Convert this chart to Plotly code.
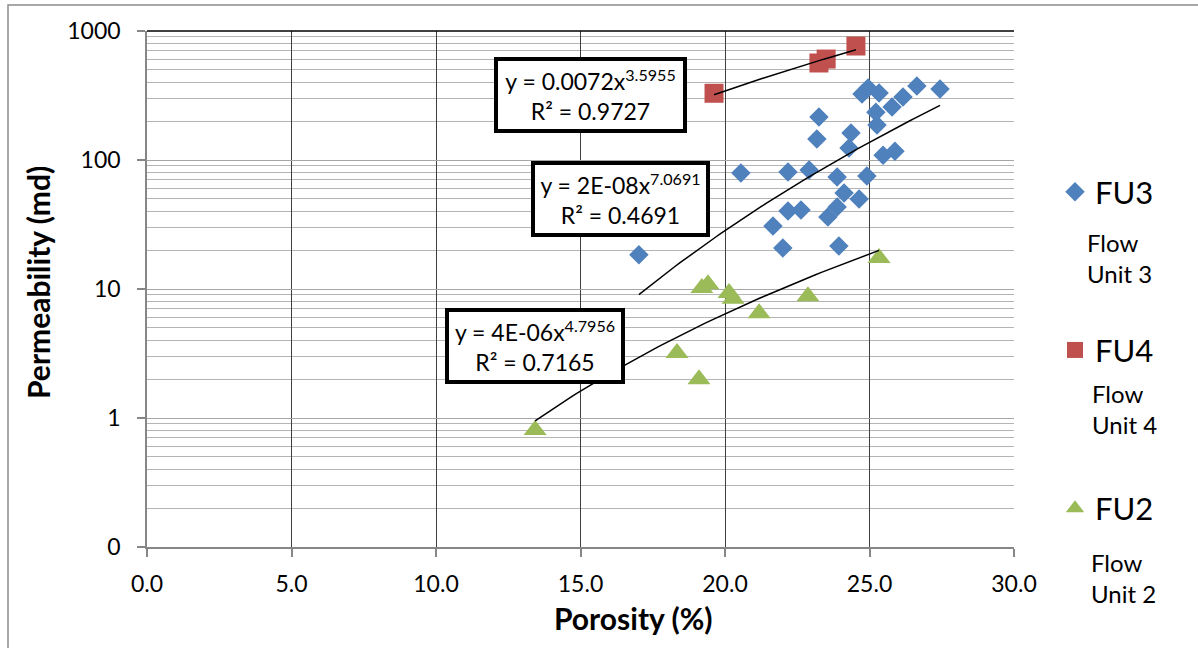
import numpy as np
import plotly.graph_objects as go

# ---------------- data ----------------
fu3_por = [17.02, 20.55, 21.66, 22.0, 22.18, 22.18, 22.63, 22.91, 23.18, 23.25,
           23.56, 23.88, 23.88, 23.94, 24.12, 24.29, 24.36, 24.64, 24.74, 24.91,
           24.95, 25.22, 25.26, 25.33, 25.47, 25.78, 25.88, 26.16, 26.64, 27.44]
fu3_perm = [18.4, 79.3, 30.8, 20.8, 80.7, 40.2, 41.0, 83.6, 145.5, 215,
            36.1, 43.2, 73.8, 21.5, 55.5, 123.9, 161.9, 49.9, 325, 75.2,
            362, 235, 187, 331, 109, 258, 117, 308, 375, 355]

fu4_por = [19.62, 23.25, 23.5, 24.53]
fu4_perm = [329, 565, 606, 765]

fu2_por = [13.43, 18.34, 19.1, 19.2, 19.41, 20.14, 20.28, 21.18, 22.87, 25.33]
fu2_perm = [0.807, 3.19, 2.0, 10.2, 10.9, 9.3, 8.4, 6.5, 8.8, 17.4]

# power trend parameters (y = a * x^b)
fu3_trend = [1.8e-8, 7.0691]
fu4_trend = [0.0072, 3.5955]
fu2_trend = [3.7e-6, 4.7956]

fu3_eq = ["y = 2E-08x<sup>7.0691</sup>", "R² = 0.4691"]
fu4_eq = ["y = 0.0072x<sup>3.5955</sup>", "R² = 0.9727"]
fu2_eq = ["y = 4E-06x<sup>4.7956</sup>", "R² = 0.7165"]

series_names = ["FU3", "FU4", "FU2"]
series_desc = ["Flow<br>Unit 3", "Flow<br>Unit 4", "Flow<br>Unit 2"]

x_ticks = [0, 5, 10, 15, 20, 25, 30]
x_ticktext = ["0.0", "5.0", "10.0", "15.0", "20.0", "25.0", "30.0"]
y_ticks = [0.1, 1, 10, 100, 1000]
y_ticktext = ["0", "1", "10", "100", "1000"]
y_minor = [m * 10.0 ** d for d in range(-1, 3) for m in range(2, 10)]

FONT = "Lato"
BLUE, RED, GREEN = "#4F81BD", "#C0504D", "#9BBB59"

fig = go.Figure()


def trend(xs, params):
    xx = np.linspace(min(xs), max(xs), 60)
    return xx, params[0] * xx ** params[1]


fig.add_trace(go.Scatter(x=fu3_por, y=fu3_perm, mode="markers", name=series_names[0],
                         legendgroup="a",
                         marker=dict(symbol="diamond", size=15, color=BLUE)))
fig.add_trace(go.Scatter(x=fu4_por, y=fu4_perm, mode="markers", name=series_names[1],
                         legendgroup="b",
                         marker=dict(symbol="square", size=19, color=RED)))
fig.add_trace(go.Scatter(x=fu2_por, y=fu2_perm, mode="markers", name=series_names[2],
                         legendgroup="c",
                         marker=dict(symbol="triangle-up", size=20, color=GREEN)))

for xs, p in [(fu3_por, fu3_trend), (fu4_por, fu4_trend), (fu2_por, fu2_trend)]:
    tx, ty = trend(xs, p)
    fig.add_trace(go.Scatter(x=tx, y=ty, mode="lines", showlegend=False,
                             line=dict(color="black", width=1.5), hoverinfo="skip"))

# ---------------- layout ----------------
L, R, T, B = 147, 1198 - 1014, 31, 648 - 547
W, H = 1198, 648
pw, ph = W - L - R, H - T - B


def px2paper(px, py):
    return (px - L) / pw, (H - B - py) / ph


annotations = []
# equation boxes
for eq, (cx, cy), (bw, bh) in [(fu4_eq, (590, 95), (185, 68)),
                               (fu3_eq, (620, 199), (171, 68)),
                               (fu2_eq, (535, 346), (172, 68))]:
    xp, yp = px2paper(cx, cy)
    annotations.append(dict(xref="paper", yref="paper", x=xp, y=yp, xanchor="center",
                            yanchor="middle", text=eq[0] + "<br>" + eq[1], showarrow=False,
                            font=dict(family=FONT, size=23, color="black"),
                            bgcolor="white", bordercolor="black", borderwidth=4,
                            borderpad=0, width=bw, height=bh, align="center"))

# legend descriptions
for desc, (lx, ly) in zip(series_desc, [(1085, 258), (1090, 409), (1089, 578)]):
    xp, yp = px2paper(lx, ly)
    annotations.append(dict(xref="paper", yref="paper", x=xp, y=yp, xanchor="left",
                            yanchor="middle", text=desc, showarrow=False, align="left",
                            font=dict(family=FONT, size=24, color="black")))

# axis titles
xp, yp = px2paper(633, 618)
annotations.append(dict(xref="paper", yref="paper", x=xp, y=yp, xanchor="center",
                        yanchor="middle", text="<b>Porosity (%)</b>", showarrow=False,
                        font=dict(family=FONT, size=30, color="black")))
xp, yp = px2paper(38, 283)
annotations.append(dict(xref="paper", yref="paper", x=xp, y=yp, xanchor="center",
                        yanchor="middle", text="<b>Permeability (md)</b>", showarrow=False,
                        textangle=-90, font=dict(family=FONT, size=30, color="black")))

shapes = [
    dict(type="line", xref="paper", yref="paper", x0=0, x1=1, y0=1, y1=1,
         line=dict(color="black", width=1.5)),
]
bx0, by0 = px2paper(8, 5)
bx1, by1 = px2paper(1210, 660)
shapes.append(dict(type="rect", xref="paper", yref="paper", x0=bx0, x1=bx1, y0=by1, y1=by0,
                   line=dict(color="#8C8C8C", width=1.5), fillcolor="rgba(0,0,0,0)",
                   layer="below"))

lx, ly = px2paper(1055, 165)

fig.update_layout(
    width=W, height=H,
    margin=dict(l=L, r=R, t=T, b=B, pad=0),
    paper_bgcolor="white", plot_bgcolor="white",
    font=dict(family=FONT, color="black"),
    showlegend=True,
    legend=dict(x=lx, y=ly, xanchor="left", yanchor="top", traceorder="grouped",
                tracegroupgap=115, font=dict(family=FONT, size=31, color="black"),
                bgcolor="rgba(0,0,0,0)", borderwidth=0),
    annotations=annotations,
    shapes=shapes,
    xaxis=dict(range=[0, 30], tickvals=x_ticks, ticktext=x_ticktext,
               showgrid=True, gridcolor="#3F3F3F", gridwidth=1, zeroline=False,
               showline=True, linecolor="#868686", linewidth=1.5,
               ticks="outside", ticklen=8, tickcolor="#868686", tickwidth=1.5,
               tickfont=dict(family=FONT, size=23, color="black"),
               ticklabelstandoff=8),
    yaxis=dict(type="log", range=[-1, 3], tickvals=y_ticks, ticktext=y_ticktext,
               showgrid=True, gridcolor="#A6A6A6", gridwidth=1.2, zeroline=False,
               showline=True, linecolor="#868686", linewidth=1.5,
               ticks="outside", ticklen=8, tickcolor="#868686", tickwidth=1.5,
               tickfont=dict(family=FONT, size=23, color="black"),
               ticklabelstandoff=12,
               minor=dict(tickvals=y_minor, showgrid=True, gridcolor="#B4B4B4",
                          gridwidth=1.2, ticks="")),
)

fig.write_html("out.html")
